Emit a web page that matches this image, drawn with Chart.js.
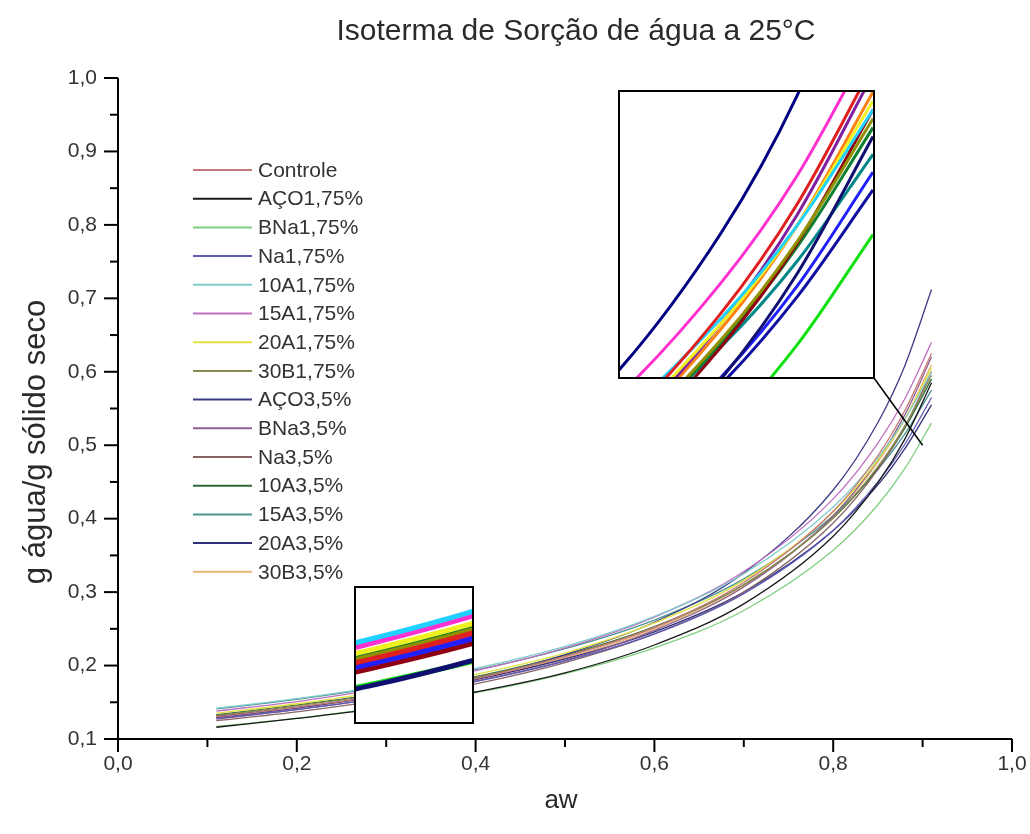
<!DOCTYPE html>
<html>
<head>
<meta charset="utf-8">
<script src="https://cdn.jsdelivr.net/npm/chart.js@4"></script>
<style>
  body { margin: 0; background: #fff; }
  #wrap { position: relative; width: 1030px; height: 834px; }
  .zoom { position: absolute; border: 2px solid #000; box-sizing: border-box; background: #fff; }
  .zoom canvas { display: block; }
</style>
</head>
<body>
<div id="wrap">
  <canvas id="main" width="1030" height="834"></canvas>
  <div class="zoom" id="boxTop" style="left:618px; top:90px; width:257px; height:289px;">
    <canvas id="zoomTop" width="253" height="285"></canvas>
  </div>
  <div class="zoom" id="boxLow" style="left:354px; top:586px; width:120px; height:138px;">
    <canvas id="zoomLow" width="116" height="134"></canvas>
  </div>
</div>
<script>
// water activity points
const aw = [0.11, 0.2, 0.3, 0.4, 0.5, 0.6, 0.7, 0.8, 0.85, 0.88, 0.91];

const labels = ['Controle', 'AÇO1,75%', 'BNa1,75%', 'Na1,75%', '10A1,75%', '15A1,75%', '20A1,75%',
  '30B1,75%', 'AÇO3,5%', 'BNa3,5%', 'Na3,5%', '10A3,5%', '15A3,5%', '20A3,5%', '30B3,5%'];

const controle = [0.130, 0.143, 0.160, 0.182, 0.212, 0.252, 0.313, 0.410, 0.486, 0.547, 0.625];
const aco175   = [0.116, 0.128, 0.143, 0.164, 0.190, 0.228, 0.284, 0.376, 0.449, 0.508, 0.585];
const bna175   = [0.117, 0.128, 0.144, 0.163, 0.189, 0.224, 0.275, 0.357, 0.419, 0.468, 0.530];
const na175    = [0.128, 0.140, 0.157, 0.178, 0.206, 0.243, 0.298, 0.384, 0.450, 0.501, 0.565];
const a10_175  = [0.142, 0.155, 0.173, 0.196, 0.226, 0.267, 0.325, 0.416, 0.483, 0.535, 0.600];
const a15_175  = [0.138, 0.151, 0.170, 0.193, 0.224, 0.266, 0.328, 0.427, 0.503, 0.563, 0.640];
const a20_175  = [0.135, 0.148, 0.166, 0.188, 0.217, 0.258, 0.316, 0.409, 0.480, 0.535, 0.605];
const b30_175  = [0.132, 0.145, 0.162, 0.184, 0.213, 0.252, 0.310, 0.401, 0.471, 0.526, 0.595];
const aco35    = [0.129, 0.142, 0.160, 0.183, 0.215, 0.259, 0.326, 0.439, 0.531, 0.608, 0.712];
const bna35    = [0.127, 0.140, 0.157, 0.179, 0.207, 0.248, 0.307, 0.404, 0.480, 0.541, 0.620];
const na35     = [0.125, 0.137, 0.154, 0.175, 0.204, 0.243, 0.300, 0.394, 0.467, 0.525, 0.600];
const a10_35   = [0.133, 0.146, 0.163, 0.185, 0.214, 0.253, 0.310, 0.401, 0.469, 0.523, 0.590];
const a15_35   = [0.141, 0.154, 0.172, 0.194, 0.223, 0.262, 0.318, 0.404, 0.467, 0.515, 0.575];
const a20_35   = [0.131, 0.143, 0.160, 0.181, 0.209, 0.246, 0.300, 0.384, 0.446, 0.495, 0.555];
const b30_35   = [0.129, 0.142, 0.159, 0.181, 0.210, 0.250, 0.308, 0.403, 0.477, 0.535, 0.610];

const series = [controle, aco175, bna175, na175, a10_175, a15_175, a20_175, b30_175,
  aco35, bna35, na35, a10_35, a15_35, a20_35, b30_35];

// faded colours of the main plot, saturated ones for the zoom boxes
const lineColors = ['#c87878', '#1a1a1a', '#80d080', '#5c5cb8', '#80cccc', '#c070c0', '#e2e040', '#8a8a50',
  '#3c3c84', '#906090', '#8a6464', '#2e6a3a', '#4a9494', '#303078', '#e8b474'];
const zoomColors = ['#e02020', '#101070', '#10e010', '#2020ff', '#20d0ff', '#ff30d0', '#f0f020', '#909000',
  '#000080', '#8020a0', '#900010', '#108030', '#008888', '#1010a0', '#ff8010'];

const yTicks = [0.1, 0.2, 0.3, 0.4, 0.5, 0.6, 0.7, 0.8, 0.9, 1.0];
const xTicks = [0.0, 0.2, 0.4, 0.6, 0.8, 1.0];

function makeDatasets(colors, width) {
  return series.map((s, i) => ({
    label: labels[i],
    data: s.map((v, j) => ({ x: aw[j], y: v })),
    borderColor: colors[i],
    borderWidth: width,
    pointRadius: 0,
    fill: false,
    cubicInterpolationMode: 'monotone'
  }));
}

const fmt = v => v.toFixed(1).replace('.', ',');
const FONT = '"Liberation Sans", Arial, sans-serif';

// axes, minor ticks, titles and the legend
const decor = {
  id: 'decor',
  afterDraw(chart) {
    const { ctx, chartArea: a, scales: { x, y } } = chart;
    ctx.save();
    ctx.strokeStyle = '#000';
    ctx.lineWidth = 2;
    ctx.beginPath();
    ctx.moveTo(a.left, a.top);
    ctx.lineTo(a.left, a.bottom);
    ctx.lineTo(a.right, a.bottom);
    ctx.stroke();

    for (let i = 0; i <= 18; i++) {
      const py = y.getPixelForValue(0.1 + i * 0.05);
      const len = i % 2 === 0 ? 14 : 8;
      ctx.beginPath();
      ctx.moveTo(a.left - len, py);
      ctx.lineTo(a.left, py);
      ctx.stroke();
    }
    for (let i = 0; i <= 10; i++) {
      const px = x.getPixelForValue(i * 0.1);
      const len = i % 2 === 0 ? 13 : 8;
      ctx.beginPath();
      ctx.moveTo(px, a.bottom);
      ctx.lineTo(px, a.bottom + len);
      ctx.stroke();
    }

    // connector from the upper zoom box to the region it magnifies
    ctx.lineWidth = 1.5;
    ctx.beginPath();
    ctx.moveTo(874, 378);
    ctx.lineTo(x.getPixelForValue(0.90), y.getPixelForValue(0.50));
    ctx.stroke();

    ctx.fillStyle = '#2a2a2a';
    ctx.textAlign = 'center';
    ctx.textBaseline = 'middle';
    ctx.font = '30px ' + FONT;
    ctx.fillText('Isoterma de Sorção de água a 25°C', 576, 32);
    ctx.font = '26px ' + FONT;
    ctx.fillText('aw', 561, 801);
    ctx.save();
    ctx.translate(36, 442);
    ctx.rotate(-Math.PI / 2);
    ctx.font = '31px ' + FONT;
    ctx.fillText('g água/g sólido seco', 0, 0);
    ctx.restore();

    // legend
    ctx.font = '21px ' + FONT;
    ctx.textAlign = 'left';
    chart.data.datasets.forEach((ds, i) => {
      const ly = 170 + i * 28.7;
      ctx.strokeStyle = ds.borderColor;
      ctx.lineWidth = 2;
      ctx.beginPath();
      ctx.moveTo(193, ly);
      ctx.lineTo(252, ly);
      ctx.stroke();
      ctx.fillStyle = '#333';
      ctx.fillText(ds.label, 258, ly + 1);
    });
    ctx.restore();
  }
};

new Chart(document.getElementById('main'), {
  type: 'line',
  data: { datasets: makeDatasets(lineColors, 1.3) },
  options: {
    responsive: false,
    animation: false,
    layout: { padding: { left: 0, right: 18, top: 78, bottom: 0 } },
    plugins: { legend: { display: false }, tooltip: { enabled: false } },
    scales: {
      x: {
        type: 'linear', min: 0, max: 1,
        afterFit: s => { s.height = 95; s.paddingLeft = 0; s.paddingRight = 0; },
        afterBuildTicks: s => { s.ticks = xTicks.map(v => ({ value: v })); },
        grid: { display: false, drawTicks: false }, border: { display: false },
        ticks: { padding: 13, color: '#333', font: { family: FONT, size: 21 }, callback: v => fmt(v), maxRotation: 0 }
      },
      y: {
        type: 'linear', min: 0.1, max: 1.0,
        afterFit: s => { s.width = 118; s.paddingTop = 0; s.paddingBottom = 0; },
        afterBuildTicks: s => { s.ticks = yTicks.map(v => ({ value: v })); },
        grid: { display: false, drawTicks: false }, border: { display: false },
        ticks: { padding: 21, color: '#333', font: { family: FONT, size: 21 }, callback: v => fmt(v) }
      }
    }
  },
  plugins: [decor]
});

function zoomChart(id, xr, yr, width) {
  new Chart(document.getElementById(id), {
    type: 'line',
    data: { datasets: makeDatasets(zoomColors, width) },
    options: {
      responsive: false,
      animation: false,
      layout: { padding: 0 },
      plugins: { legend: { display: false }, tooltip: { enabled: false } },
      scales: {
        x: { type: 'linear', min: xr[0], max: xr[1], display: false },
        y: { type: 'linear', min: yr[0], max: yr[1], display: false }
      }
    }
  });
}

zoomChart('zoomTop', [0.81, 0.91], [0.45, 0.61], 3);
zoomChart('zoomLow', [0.29, 0.38], [0.120, 0.206], 5);
</script>
</body>
</html>
